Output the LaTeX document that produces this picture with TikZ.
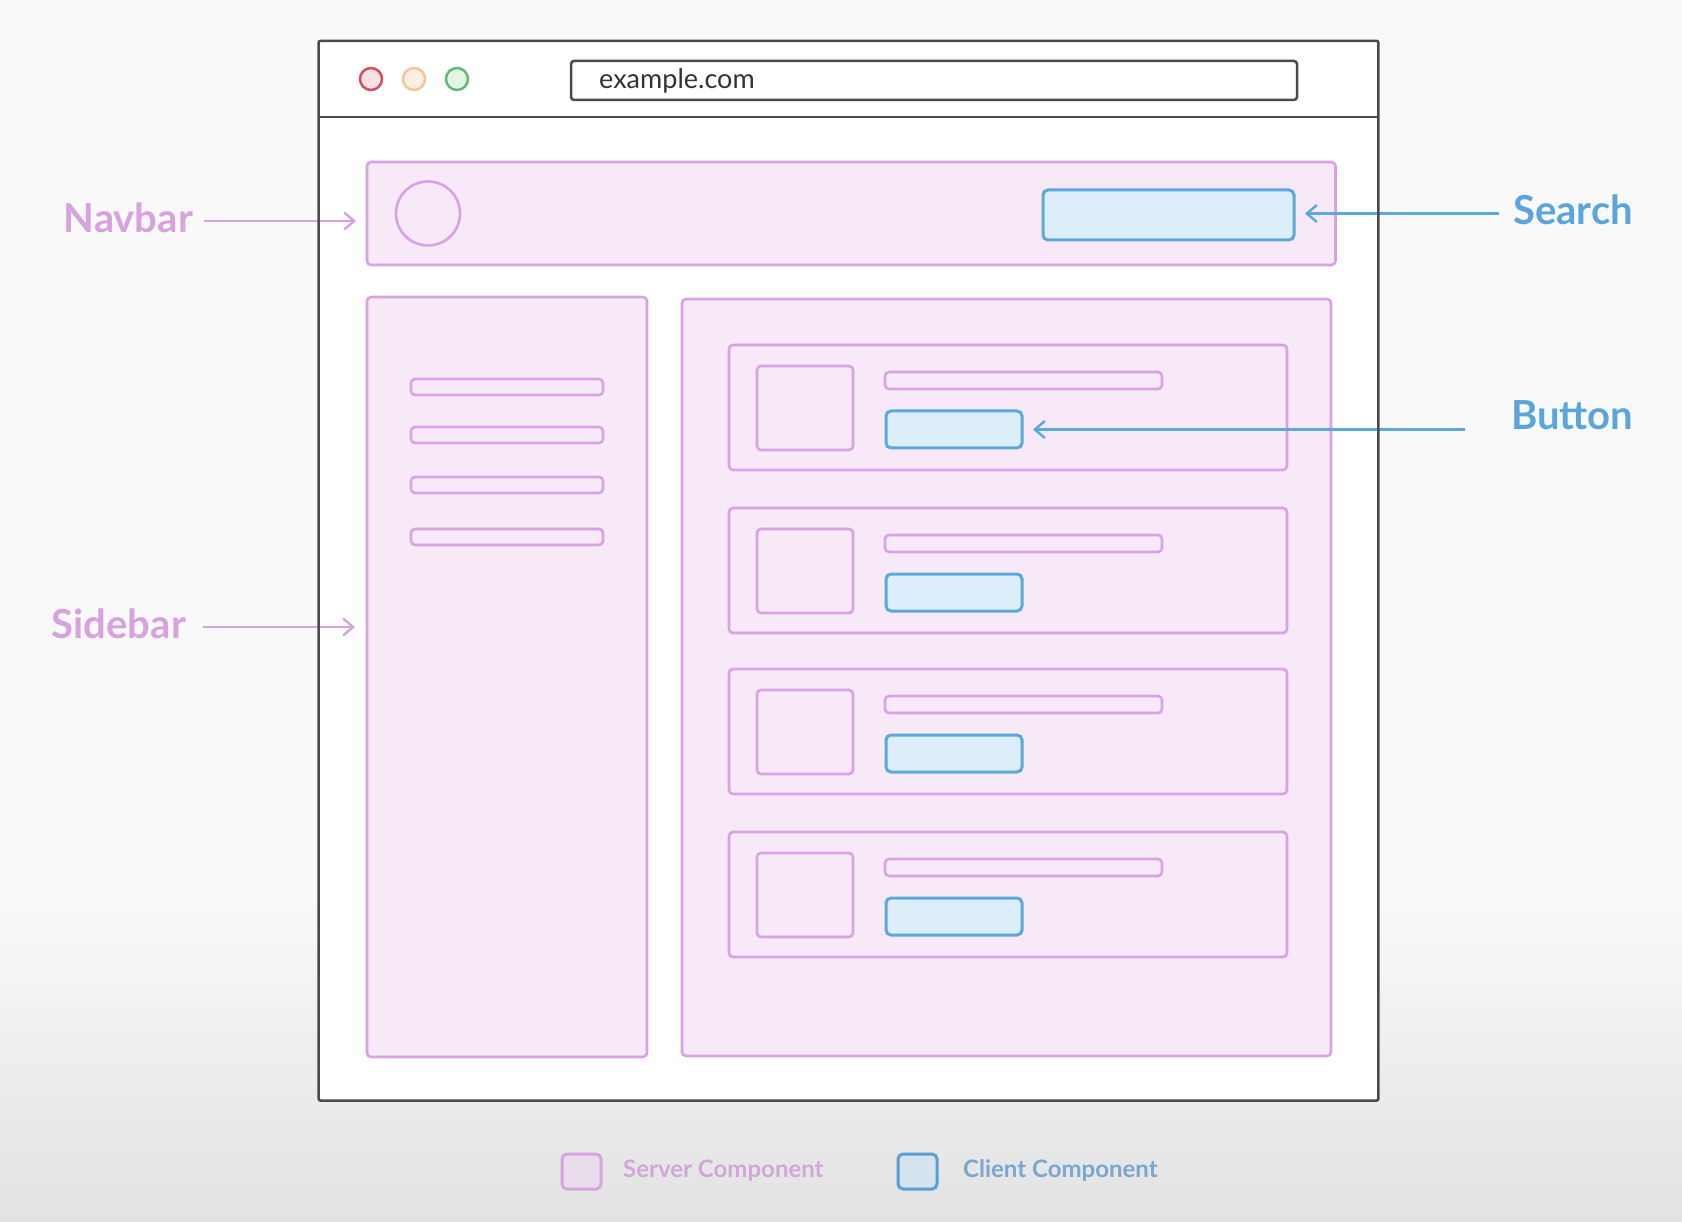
\documentclass[tikz,border=0pt]{standalone}
\usepackage{fontspec}
\setmainfont{Lato}
\usetikzlibrary{arrows.meta}

\definecolor{srvline}{HTML}{D9A2E2}
\definecolor{srvfill}{HTML}{F7E9F8}
\definecolor{cltline}{HTML}{5BA8DD}
\definecolor{cltfill}{HTML}{DCEEF9}
\definecolor{frameline}{HTML}{4A4A4A}
\definecolor{bgtop}{HTML}{F9F9F9}
\definecolor{bgbot}{HTML}{E2E2E2}
\definecolor{srvtext}{HTML}{D8A2DF}
\definecolor{clttext}{HTML}{5AA6DC}
\definecolor{legsrvfill}{HTML}{E9DCEB}
\definecolor{legcltfill}{HTML}{D4E3EE}
\definecolor{legcltline}{HTML}{5A9FD3}
\definecolor{legsrvtext}{HTML}{D2A6D9}
\definecolor{legclttext}{HTML}{7AA6D2}
\definecolor{redline}{HTML}{D0505F}
\definecolor{redfill}{HTML}{FBE1E4}
\definecolor{orgline}{HTML}{F4C49A}
\definecolor{orgfill}{HTML}{FDF0E2}
\definecolor{grnline}{HTML}{62BB74}
\definecolor{grnfill}{HTML}{E4F5E7}

% box from corner (x1,y1) to corner (x2,y2), y counted downwards
\newcommand\pbox[6]{\node[#2, minimum width={((#5)-(#3))*1pt}, minimum height={((#6)-(#4))*1pt}] (#1) at ({((#3)+(#5))/2},{((#4)+(#6))/2}) {};}

\tikzset{
  srv/.style={draw=srvline, fill=srvfill, line width=2.6pt, rounded corners=4pt, inner sep=0pt, outer sep=0pt},
  clt/.style={draw=cltline, fill=cltfill, line width=3pt, rounded corners=5pt, inner sep=0pt, outer sep=0pt},
  light/.style={circle, draw=#1line, fill=#1fill, line width=2.5pt, minimum size=22pt, inner sep=0pt},
  lbl/.style={inner sep=0pt, font=\fontsize{40}{48}\selectfont\bfseries},
  srvarrow/.style={draw=srvline, line width=2.4pt, -{Straight Barb[length=10pt, width=17pt]}},
  cltarrow/.style={draw=cltline, line width=2.4pt, -{Straight Barb[length=10pt, width=17pt]}},
  legtext/.style={anchor=west, inner sep=0pt, font=\fontsize{24}{29}\selectfont\bfseries},
}

\begin{document}
\begin{tikzpicture}[x=1pt, y=-1pt]
\useasboundingbox (0,0) rectangle (1682,1222);

% page background with a darker band at the bottom
\fill[bgtop] (0,0) rectangle (1682,1222);
\shade[top color=bgtop, bottom color=bgbot] (0,900) rectangle (1682,1222);

% browser window body
\pbox{browser}{fill=white, inner sep=0pt, outer sep=0pt}{318.6}{40.8}{1378.4}{1100.6}

% window controls
\node[light=red] (dotr) at (371,79) {};
\node[light=org] (doto) at (414,79) {};
\node[light=grn] (dotg) at (457,79) {};

% address bar
\pbox{url}{draw=frameline, fill=white, line width=2.5pt, rounded corners=3pt, inner sep=0pt}{571}{61}{1297}{100}
\node[anchor=west, inner sep=0pt, text=black!80, font=\fontsize{27}{32}\selectfont] (urltext) at (599,81) {example.com};

% navbar
\pbox{navbar}{srv}{367}{162}{1335.5}{265}
\node[circle, draw=srvline, fill=srvfill, line width=2.6pt, minimum size=64pt, inner sep=0pt] (logo) at (428,213.5) {};
\pbox{search}{clt}{1043}{190}{1294}{240}

% sidebar with its menu entries
\pbox{sidebar}{srv}{367}{297}{647}{1057}
\foreach \t [count=\n] in {379,427,477,529} {
  \pbox{item\n}{srv}{411}{\t}{603}{\t+16}
}

% main area with four cards
\pbox{main}{srv}{682}{299}{1331}{1056}
\foreach \t [count=\n] in {345,508,669,832} {
  \pbox{card\n}{srv}{729}{\t}{1287}{\t+125}
  \pbox{img\n}{srv}{757}{\t+21}{853}{\t+105}
  \pbox{ttl\n}{srv}{885}{\t+27}{1162}{\t+44}
  \pbox{btn\n}{clt}{886}{\t+66}{1022}{\t+103}
}

% labels
\node[lbl, anchor=east, text=srvtext] (navlbl) at (193,218) {Navbar};
\node[lbl, anchor=east, text=srvtext] (sidelbl) at (186,624) {Sidebar};
\node[lbl, anchor=west, text=clttext] (srchlbl) at (1513,210) {Search};
\node[lbl, anchor=west, text=clttext] (btnlbl) at (1511,415) {Button};

% pointers
\draw[srvarrow, shorten <=11pt, shorten >=11pt] ([yshift=-3pt]navlbl.east) -- ([yshift=-3pt]navlbl.east -| navbar.west);
\draw[srvarrow, shorten <=17pt, shorten >=12pt] ([yshift=-3pt]sidelbl.east) -- ([yshift=-3pt]sidelbl.east -| sidebar.west);
\draw[cltarrow, shorten <=14pt, shorten >=11pt] ([yshift=-3.5pt]srchlbl.west) -- ([yshift=-3.5pt]srchlbl.west -| search.east);
\draw[cltarrow, shorten <=46pt, shorten >=11pt] (btn1.east -| btnlbl.west) -- (btn1.east);

% window outline and title bar separator, above the pointers
\draw[frameline, line width=2.5pt, rounded corners=2pt] (browser.north west) rectangle (browser.south east);
\draw[frameline, line width=2.5pt] (browser.west |- 0,117) -- (browser.east |- 0,117);

% legend
\pbox{legsrv}{draw=srvline, fill=legsrvfill, line width=3pt, rounded corners=5pt, inner sep=0pt}{562}{1154}{601}{1189}
\node[legtext, text=legsrvtext] (legsrvtext) at (623,1171) {Server Component};
\pbox{legclt}{draw=legcltline, fill=legcltfill, line width=3pt, rounded corners=5pt, inner sep=0pt}{898}{1154}{937}{1189}
\node[legtext, text=legclttext] (legclttext) at (963,1171) {Client Component};
\end{tikzpicture}
\end{document}
